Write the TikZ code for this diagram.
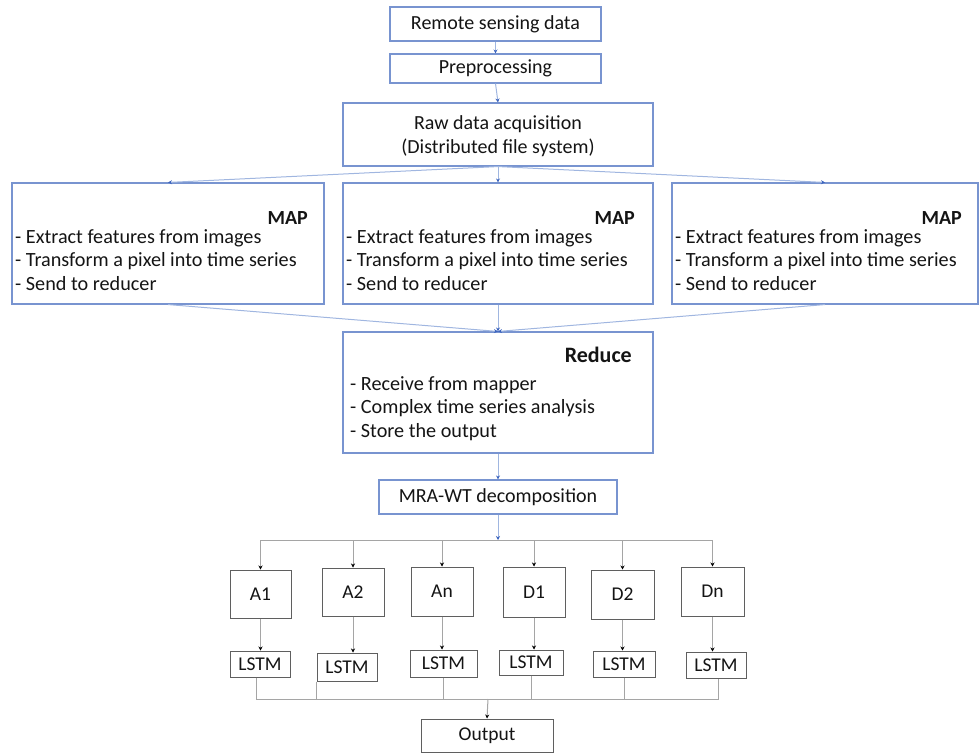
\documentclass[tikz,border=0pt]{standalone}
\usepackage{fontspec}
\setmainfont{Carlito}
\usetikzlibrary{arrows.meta}
\definecolor{bbox}{RGB}{120,148,208}
\definecolor{bline}{RGB}{160,182,224}
\definecolor{barrow}{RGB}{60,100,190}
\definecolor{gbox}{RGB}{95,95,95}
\definecolor{gline}{RGB}{165,165,165}
\definecolor{txt}{RGB}{20,20,20}
\tikzset{
  bluebox/.style={draw=bbox, line width=1.1pt, inner sep=0pt, align=center, text=txt, font=\fontsize{20}{24}\selectfont},
  graybox/.style={draw=gbox, line width=1pt, inner sep=0pt, align=center, text=txt, font=\fontsize{19.5}{23}\selectfont},
  maptext/.style={anchor=west, inner sep=0pt, align=left, text=txt, font=\fontsize{20.2}{23.3}\selectfont},
  head/.style={anchor=east, inner sep=0pt, text=txt, font=\bfseries\fontsize{20}{24}\selectfont},
  blink/.style={draw=bline, line width=1pt, -{Stealth[length=4pt,width=4pt,color=barrow]}},
  glink/.style={draw=gline, line width=1pt, -{Stealth[length=4pt,width=4pt,color=black]}},
  gwire/.style={draw=gline, line width=1pt}
}
\begin{document}
\begin{tikzpicture}[x=1pt,y=-1pt]
\useasboundingbox (0,0) rectangle (980,753);
% top
\node[bluebox, minimum width=211pt, minimum height=34pt] (rsd) at (495.5,24) {Remote sensing data};
\node[bluebox, minimum width=211pt, minimum height=29pt] (pre) at (495.5,68.5) {Preprocessing};
\node[bluebox, minimum width=310pt, minimum height=63pt] (raw) at (498,134.5) {};
\node[inner sep=0pt, align=center, text=txt, font=\fontsize{20}{24}\selectfont] (rawt) at (498,136) {Raw data acquisition\\(Distributed file system)};
% maps
\node[bluebox, minimum width=312pt, minimum height=121pt] (map1) at (168,243.5) {};
\node[bluebox, minimum width=310pt, minimum height=121pt] (map2) at (498,243.5) {};
\node[bluebox, minimum width=306pt, minimum height=121pt] (map3) at (825,243.5) {};
\node[head] (h1) at (308,218) {MAP};
\node[head] (h2) at (635,218) {MAP};
\node[head] (h3) at (962,218) {MAP};
\node[maptext] (t1) at (15,260) {- Extract features from images\\- Transform a pixel into time series\\- Send to reducer};
\node[maptext] (t2) at (346,260) {- Extract features from images\\- Transform a pixel into time series\\- Send to reducer};
\node[maptext] (t3) at (675,260) {- Extract features from images\\- Transform a pixel into time series\\- Send to reducer};
% reduce
\node[bluebox, minimum width=310pt, minimum height=121pt] (red) at (498,392.5) {};
\node[head, font=\bfseries\fontsize{22}{26}\selectfont] (hr) at (632,355) {Reduce};
\node[maptext] (tr) at (350,408.5) {- Receive from mapper\\- Complex time series analysis\\- Store the output};
% MRA
\node[bluebox, minimum width=238pt, minimum height=34pt] (mra) at (498,497) {MRA-WT decomposition};
% components
\node[graybox, minimum width=61pt, minimum height=48pt] (a1) at (260.5,594) {A1};
\node[graybox, minimum width=62pt, minimum height=48pt] (a2) at (353,592) {A2};
\node[graybox, minimum width=62pt, minimum height=49pt] (an) at (442,591.5) {An};
\node[graybox, minimum width=62pt, minimum height=50pt] (d1) at (534,592) {D1};
\node[graybox, minimum width=63pt, minimum height=49pt] (d2) at (622.5,594.5) {D2};
\node[graybox, minimum width=63pt, minimum height=49pt] (dn) at (712.5,591.5) {Dn};
% LSTMs
\node[graybox, minimum width=60pt, minimum height=26pt] (l1) at (260,664) {LSTM};
\node[graybox, minimum width=60pt, minimum height=28pt] (l2) at (347,667) {LSTM};
\node[graybox, minimum width=67pt, minimum height=27pt] (ln) at (443.5,663.5) {LSTM};
\node[graybox, minimum width=64pt, minimum height=25pt] (ld1) at (531,662.5) {LSTM};
\node[graybox, minimum width=62pt, minimum height=26pt] (ld2) at (624,664) {LSTM};
\node[graybox, minimum width=60pt, minimum height=26pt] (ldn) at (716,665) {LSTM};
\node[graybox, minimum width=132pt, minimum height=33pt] (out) at (487,735.5) {Output};
\coordinate (bus) at (498,540);
\coordinate (bus2) at (488,699);
% upper connectors
\draw[blink] (rsd.south) -- (rsd.south |- pre.north);
\draw[blink] (pre.south) -- (raw.north);
\draw[blink] (raw.south) -- (map1.north);
\draw[blink] (raw.south) -- (map2.north);
\draw[blink] (raw.south) -- (map3.north);
\draw[blink] (map1.south) -- (red.north);
\draw[blink] (map2.south) -- (red.north);
\draw[blink] (map3.south) -- (red.north);
\draw[blink] (red.south) -- (mra.north);
\draw[blink] (mra.south) -- (bus);
% lower bus
\draw[gwire] (a1.north |- bus) -- (dn.north |- bus);
\foreach \n in {a1,a2,an,d1,d2,dn}{
  \draw[glink] (\n.north |- bus) -- (\n.north);
}
\draw[glink] (a1.south) -- (a1.south |- l1.north);
\draw[glink] (a2.south) -- (a2.south |- l2.north);
\draw[glink] (an.south) -- (an.south |- ln.north);
\draw[glink] (d1.south) -- (d1.south |- ld1.north);
\draw[glink] (d2.south) -- (d2.south |- ld2.north);
\draw[glink] (dn.south) -- (dn.south |- ldn.north);
% bottom bus
\draw[gwire] ([xshift=-4pt]l1.south) -- ([xshift=-4pt]l1.south |- bus2) -- ([xshift=2pt]ldn.south |- bus2) -- ([xshift=2pt]ldn.south);
\draw[gwire] (l2.south west) -- (l2.south west |- bus2);
\draw[gwire] (ln.south) -- (ln.south |- bus2);
\draw[gwire] (ld1.south) -- (ld1.south |- bus2);
\draw[gwire] (ld2.south) -- (ld2.south |- bus2);
\draw[glink] (bus2) -- (out.north);
\end{tikzpicture}
\end{document}
